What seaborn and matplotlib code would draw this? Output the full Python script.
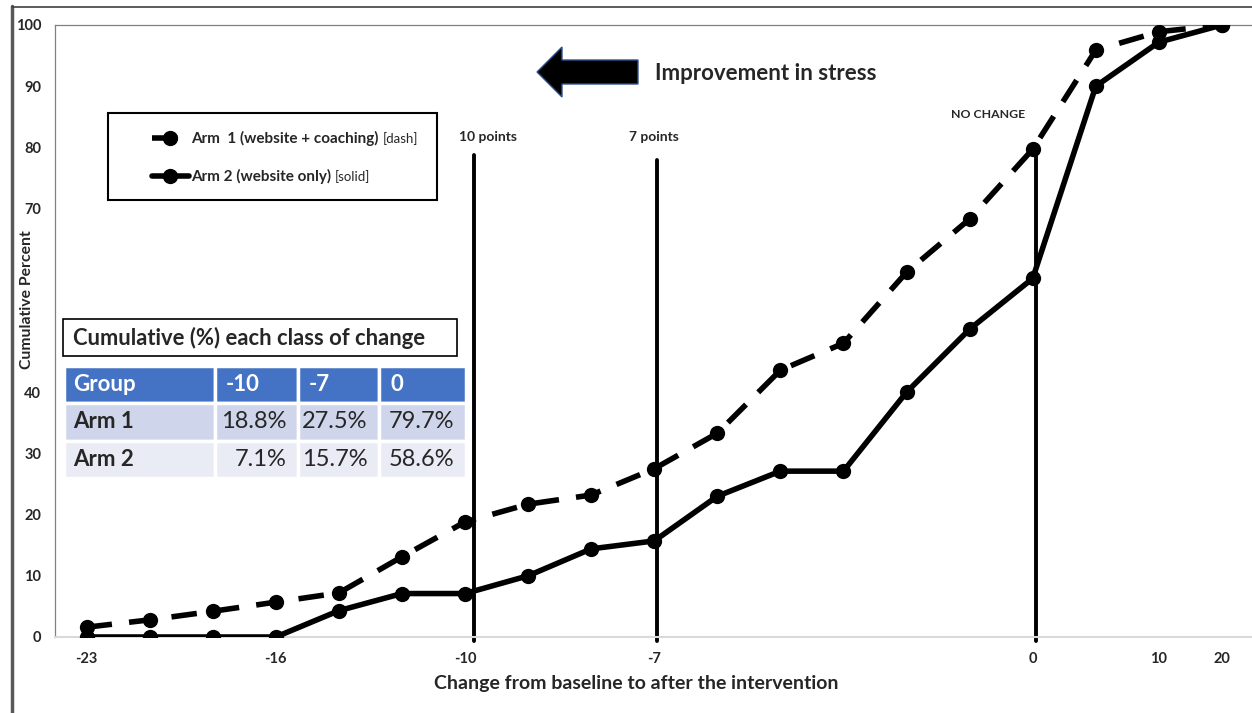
import numpy as np
import pandas as pd
import matplotlib.pyplot as plt
import matplotlib.patches as mpatches
import matplotlib.transforms as mtransforms
from matplotlib.lines import Line2D
import seaborn as sns

# x axis: one point per class of change, only some classes are labelled
n_classes = 19
tick_pos = [0, 3, 6, 9, 15, 17, 18]
tick_labels = ["-23", "-16", "-10", "-7", "0", "10", "20"]

# cumulative percent
arm1 = [1.6, 2.8, 4.2, 5.7, 7.2, 13.1, 18.8, 21.7, 23.2, 27.5, 33.3,
        43.6, 48.0, 59.6, 68.3, 79.7, 95.9, 98.9, 100]
arm2 = [0, 0, 0, 0, 4.3, 7.1, 7.1, 10.0, 14.4, 15.7, 23.0,
        27.1, 27.1, 40.0, 50.3, 58.6, 90.0, 97.2, 100]

y_ticks = [0, 10, 20, 30, 40, 70, 80, 90, 100]

# reference lines
ref_labels = ["10 points", "7 points", "NO CHANGE"]
ref_x = [6.15, 9.05, 15.05]
ref_top = [78.8, 77.9, 80.1]

# summary table
table_title = "Cumulative (%) each class of change"
table_cols = ["Group", "-10", "-7", "0"]
table_rows = [["Arm 1", "18.8%", "27.5%", "79.7%"],
              ["Arm 2", "7.1%", "15.7%", "58.6%"]]

W, H = 1252, 713


def fx(px):
    return px / W


def fy(py):
    return 1 - py / H


sns.set_style("white")
plt.rcParams['font.family'] = ['Lato', 'DejaVu Sans']

df = pd.DataFrame({
    "cls": list(range(n_classes)) * 2,
    "pct": arm1 + arm2,
    "group": ["Arm 1"] * n_classes + ["Arm 2"] * n_classes,
})

fig = plt.figure(figsize=(W / 100, H / 100), dpi=100)
ax = fig.add_axes([fx(55), fy(637), fx(1253.5) - fx(55), fy(25) - fy(637)])

sns.lineplot(data=df, x="cls", y="pct", hue="group", style="group",
             palette={"Arm 1": "black", "Arm 2": "black"},
             dashes={"Arm 1": (4.6, 3.1), "Arm 2": ""},
             markers={"Arm 1": "o", "Arm 2": "o"},
             linewidth=4.0, markersize=11, markeredgewidth=0,
             legend=False, ax=ax, zorder=3)

# vertical reference lines
for lab, x, top in zip(ref_labels, ref_x, ref_top):
    ax.plot([x, x], [-0.6, top], color="black", lw=2.8, clip_on=False, zorder=2)
ax.text(6.37, 81.7, "10 points", ha="center", va="center", fontsize=10, fontweight="bold")
ax.text(9.0, 81.7, "7 points", ha="center", va="center", fontsize=10, fontweight="bold")
ax.text(14.29, 85.3, "NO CHANGE", ha="center", va="center", fontsize=8.8, fontweight="bold")

ax.set_xlim(-0.5, n_classes - 0.5)
ax.set_ylim(0, 100)
ax.set_xticks(tick_pos)
ax.set_xticklabels(tick_labels, fontsize=10.5, fontweight="bold")
ax.set_xticks(np.arange(-0.5, n_classes, 1), minor=True)
ax.tick_params(axis="x", which="major", length=0, pad=11)
ax.tick_params(axis="x", which="minor", length=4, color="#D9D9D9", width=1)
ax.set_yticks(y_ticks)
ax.set_yticklabels([str(v) for v in y_ticks], fontsize=10.5, fontweight="bold")
ax.tick_params(axis="y", length=0, pad=10)

ax.spines["right"].set_visible(False)
for side in ["left", "top"]:
    ax.spines[side].set_color("#808080")
    ax.spines[side].set_linestyle((0, (6, 1, 1, 1)))
    ax.spines[side].set_linewidth(0.9)
ax.spines["bottom"].set_color("#D9D9D9")
ax.spines["bottom"].set_linewidth(1.5)

ax.set_xlabel("Change from baseline to after the intervention", fontsize=14, fontweight="bold")
ax.xaxis.set_label_coords((636 - 55) / 1198.5, (637 - 675) / 612)
ax.set_ylabel("Cumulative Percent", fontsize=11.3, fontweight="bold")
ax.yaxis.set_label_coords((34 - 55) / 1198.5, (637 - 300) / 612)

# legend
handles = [Line2D([0], [0], color="black", lw=4.0, ls=(0, (4.6, 3.1)), marker="o", ms=11, mew=0),
           Line2D([0], [0], color="black", lw=4.0, marker="o", ms=11, mew=0)]
leg = ax.legend(handles, ["Arm  1 (website + coaching)", "Arm 2 (website only)"],
                loc="upper left", bbox_to_anchor=(fx(152), fy(131)), bbox_transform=fig.transFigure,
                frameon=False, borderaxespad=0, borderpad=0, handlelength=2.4,
                handletextpad=0.15, labelspacing=1.5, prop={"size": 11, "weight": "bold"})
fig.add_artist(mpatches.Rectangle((fx(108), fy(200)), fx(437) - fx(108), fy(113) - fy(200),
                                  transform=fig.transFigure, fill=False, ec="black", lw=1.5))

# arrow + caption
arrow_px = [(537, 72), (562, 47), (562, 60), (638, 60), (638, 84), (562, 84), (562, 97)]
fig.add_artist(mpatches.Polygon([(fx(x), fy(y)) for x, y in arrow_px], closed=True,
                                transform=fig.transFigure, fc="black", ec="#2F528F", lw=1))
fig.text(fx(655), fy(73), "Improvement in stress", ha="left", va="center",
         fontsize=16, fontweight="bold")

# table title box
fig.add_artist(mpatches.Rectangle((fx(63), fy(356)), fx(457) - fx(63), fy(319) - fy(356),
                                  transform=fig.transFigure, fc="white", ec="black", lw=1.2))
fig.text(fx(73), fy(338), table_title, ha="left", va="center", fontsize=15.8, fontweight="bold")

# table
tax = fig.add_axes([fx(64), fy(478), fx(466) - fx(64), fy(366) - fy(478)])
tax.axis("off")
tbl = tax.table(cellText=table_rows, colLabels=table_cols, cellLoc="left", colLoc="left",
                colWidths=[151, 83, 81, 87], bbox=[0, 0, 1, 1])
tbl.auto_set_font_size(False)
row_colors = {0: "#4472C4", 1: "#CFD5EA", 2: "#E9EBF5"}
for (r, c), cell in tbl.get_celld().items():
    cell.set_facecolor(row_colors[r])
    cell.set_edgecolor("white")
    cell.set_linewidth(2.5)
    cell.PAD = 0.06 if c == 0 else 0.13
    txt = cell.get_text()
    txt.set_fontsize(16)
    if r == 0:
        txt.set_color("white")
        txt.set_fontweight("bold")
    elif c == 0:
        txt.set_fontweight("bold")
    else:
        txt.set_fontsize(17)
        txt.set_horizontalalignment("right")
        cell.PAD = 0.14

# outer frame of the screenshot
fig.add_artist(Line2D([fx(12), fx(12)], [0, fy(6)], transform=fig.transFigure, color="#595959", lw=2.5))
fig.add_artist(Line2D([fx(12), 1], [fy(6.5), fy(6.5)], transform=fig.transFigure, color="#404040", lw=1.2))

# non-bold suffixes of the legend labels
fig.canvas.draw()
for t, extra in zip(leg.get_texts(), ["[dash]", "[solid]"]):
    bb = t.get_window_extent()
    fig.text(bb.x1 + 4, (bb.y0 + bb.y1) / 2, extra, transform=mtransforms.IdentityTransform(),
             ha="left", va="center", fontsize=9.5)

fig.savefig("out.png", dpi=100)
